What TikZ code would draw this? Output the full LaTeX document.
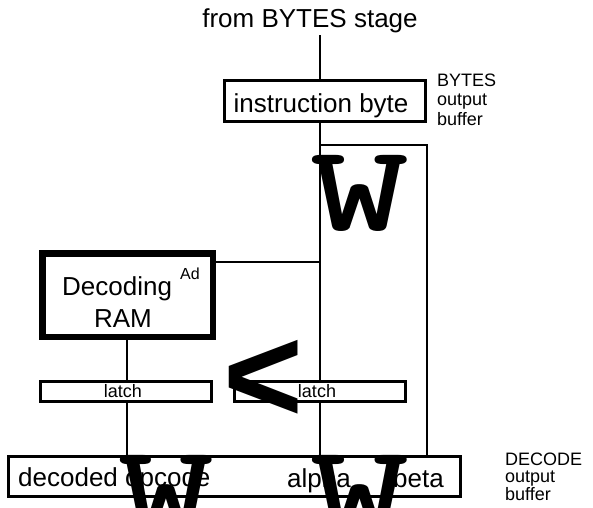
\documentclass[tikz,border=0pt]{standalone}
\usepackage{fontspec}
\setmainfont{Liberation Sans}
\begin{document}
\begin{tikzpicture}[x=1pt,y=-1pt,
  box/.style={draw, line width=3pt, inner sep=0pt, fill=white},
  wire/.style={line width=2.6pt},
  big/.style={font=\fontsize{26}{26}\selectfont, inner sep=0pt, anchor=base},
  small/.style={font=\fontsize{18}{18}\selectfont, inner sep=0pt, anchor=base west},
  glyph/.style={inner sep=0pt, anchor=base west},
  wglyph/.style={glyph, font=\ttfamily\bfseries\fontsize{123}{123}\selectfont}]
\clip (0,0) rectangle (593,507);
\fill[white] (0,0) rectangle (593,507);
% top
\node[big] (title) at (310,27) {from BYTES stage};
\coordinate (tin) at (320,35);
\node[box, minimum width=201pt, minimum height=41pt] (ib) at (325,101) {};
\node[big] (ibt) at (321,112) {instruction byte};
\node[small] (bl1) at (437,86) {BYTES};
\node[small] (bl2) at (437,105.5) {output};
\node[small] (bl3) at (437,125) {buffer};
% decode buffer
\node[box, minimum width=452pt, minimum height=40pt] (db) at (234.5,476.5) {};
\node[big, anchor=base west] (dbt1) at (18,486) {decoded opcode};
\node[big, anchor=base west] (dbt2) at (287,487) {alpha};
\node[big, anchor=base east] (dbt3) at (444,487) {beta};
\node[small] (dl1) at (505,465) {DECODE};
\node[small] (dl2) at (505,482.5) {output};
\node[small] (dl3) at (505,500) {buffer};
% latches
\node[box, minimum width=171pt, minimum height=20pt] (ll) at (126,391.5) {};
\node[small, anchor=base] (llt) at (123,397.5) {latch};
\node[box, minimum width=171pt, minimum height=20pt] (rl) at (320,391.5) {};
\node[small, anchor=base] (rlt) at (317,397.5) {latch};
% decoding RAM
\node[box, line width=6.5pt, minimum width=170.5pt, minimum height=83.5pt] (dec) at (127.5,295) {};
\node[big, anchor=base west] (dect) at (62,295) {Decoding};
\node[font=\fontsize{16}{16}\selectfont, inner sep=0pt, anchor=base west] (ad) at (180,279) {Ad};
\node[big] (ram) at (123,327) {RAM};
% wires
\draw[wire] (tin) -- (ib.north -| tin);
\draw[wire] (ib.south -| tin) -- (rl.north);
\draw[wire] (rl.south) -- (rl.south |- db.north);
\coordinate (rtl) at (320,145);
\coordinate (rtr) at (427,145);
\draw[wire] (rtl) -- (rtr) -- (rtr |- db.north);
\coordinate (j) at (320,262);
\draw[wire] (j -| dec.east) -- (j);
\coordinate (lx) at (127,0);
\draw[wire] (dec.south -| lx) -- (ll.north -| lx);
\draw[wire] (ll.south -| lx) -- (db.north -| lx);
% stray glyphs
\node[wglyph] (w1) at (310,230) {\scalebox{1.53}[1]{W}};
\node[wglyph] (w2) at (118,530) {\scalebox{1.48}[1]{W}};
\node[wglyph] (w3) at (310,530) {\scalebox{1.53}[1]{W}};
\node[glyph, font=\bfseries\fontsize{137}{137}\selectfont] (lt) at (223.5,422) {<};
\end{tikzpicture}
\end{document}
